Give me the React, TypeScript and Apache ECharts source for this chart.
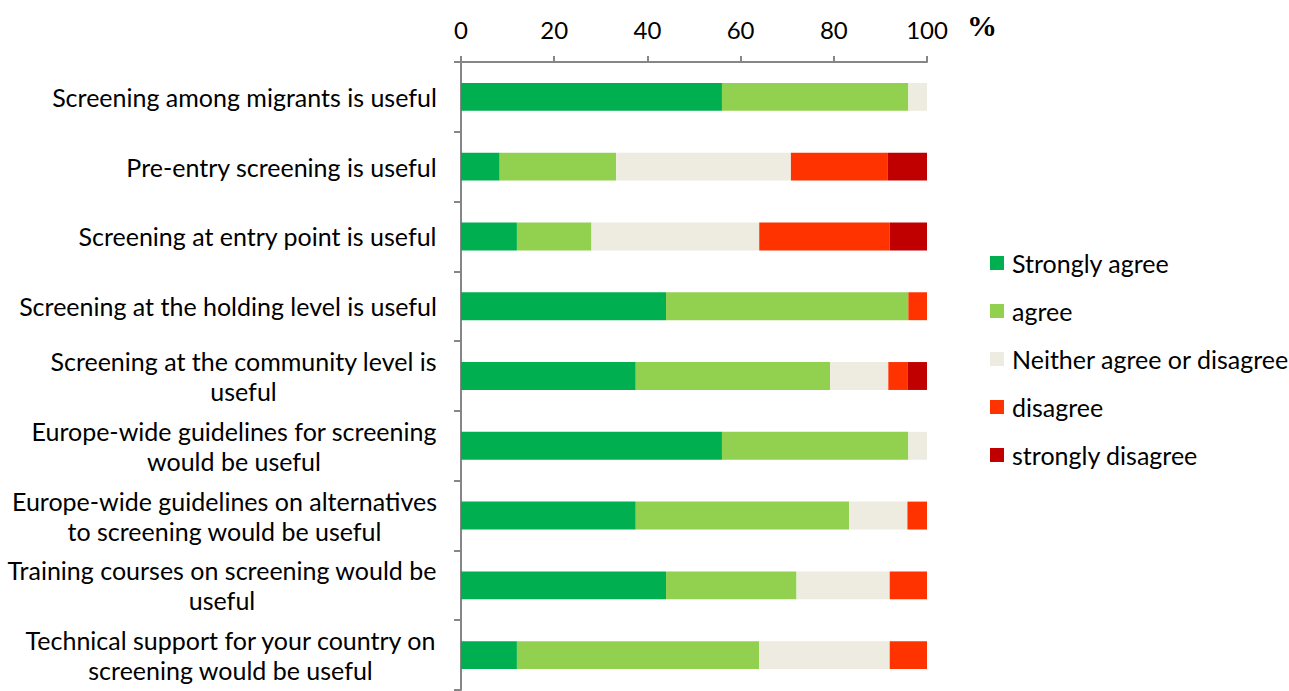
import React, { useEffect, useRef } from "react";
import * as echarts from "echarts";

const categories = [
  "Screening among migrants is useful",
  "Pre-entry screening is useful",
  "Screening at entry point is useful",
  "Screening at the holding level is useful",
  "Screening at the community level is useful",
  "Europe-wide guidelines for screening would be useful",
  "Europe-wide guidelines on alternatives to screening would be useful",
  "Training courses on screening would be useful",
  "Technical support for your country on screening would be useful",
];

const labelBreaks: Record<string, string[]> = {
  "Screening at the community level is useful": ["Screening at the community level is", "useful"],
  "Europe-wide guidelines for screening would be useful": ["Europe-wide guidelines for screening", "would be useful"],
  "Europe-wide guidelines on alternatives to screening would be useful": ["Europe-wide guidelines on alternatives", "to screening would be useful"],
  "Training courses on screening would be useful": ["Training courses on screening would be", "useful"],
  "Technical support for your country on screening would be useful": ["Technical support for your country on", "screening would be useful"],
};

const seriesNames = ["Strongly agree", "agree", "Neither agree or disagree", "disagree", "strongly disagree"];
const stronglyAgree = [56, 8.3, 12, 44, 37.5, 56, 37.5, 44, 12];
const agree = [40, 25, 16, 52, 41.7, 40, 45.8, 28, 52];
const neither = [4, 37.5, 36, 0, 12.5, 4, 12.5, 20, 28];
const disagree = [0, 20.8, 28, 4, 4.2, 0, 4.2, 8, 8];
const stronglyDisagree = [0, 8.4, 8, 0, 4.1, 0, 0, 0, 0];
const colors = ["#00B050", "#92D050", "#EEECE1", "#FF3300", "#C00000"];
const xTicks = [0, 20, 40, 60, 80, 100];

const FONT = "Lato";
const LABEL_SIZE = 25;

export default function App() {
  const ref = useRef<HTMLDivElement>(null);
  useEffect(() => {
    if (!ref.current) return;
    const canvas = document.createElement("canvas");
    const ctx = canvas.getContext("2d")!;
    ctx.font = `${LABEL_SIZE}px ${FONT}`;
    const rich: Record<string, any> = {};
    categories.forEach((c, i) => {
      const lines = labelBreaks[c] || [c];
      const w = Math.ceil(Math.max(...lines.map((l) => ctx.measureText(l).width)));
      rich[`c${i}`] = { width: w, align: "center", fontFamily: FONT, fontSize: LABEL_SIZE, lineHeight: 30, color: "#000" };
    });
    const chart = echarts.init(ref.current, undefined, { renderer: "svg" });
    const values = [stronglyAgree, agree, neither, disagree, stronglyDisagree];
    chart.setOption({
      animation: false,
      textStyle: { fontFamily: FONT },
      grid: { left: 461, right: 362, top: 62, bottom: 1, containLabel: false },
      legend: {
        orient: "vertical",
        left: 985,
        top: 243,
        itemWidth: 14,
        itemHeight: 14,
        itemGap: 18,
        icon: "rect",
        textStyle: { fontFamily: FONT, fontSize: LABEL_SIZE, color: "#000", lineHeight: 30, padding: [0, 0, 0, 3] },
        data: seriesNames,
      },
      xAxis: {
        type: "value",
        position: "top",
        min: xTicks[0],
        max: xTicks[xTicks.length - 1],
        interval: 20,
        splitLine: { show: false },
        axisLine: { show: true, lineStyle: { color: "#868686", width: 2 } },
        axisTick: { show: true, length: 6, lineStyle: { color: "#868686", width: 2 } },
        axisLabel: { fontFamily: FONT, fontSize: 24, color: "#000", margin: 21 },
      },
      yAxis: {
        type: "category",
        inverse: true,
        data: categories,
        axisLine: { show: true, lineStyle: { color: "#868686", width: 2 } },
        axisTick: { show: true, length: 7, lineStyle: { color: "#868686", width: 2 } },
        axisLabel: {
          fontFamily: FONT,
          fontSize: LABEL_SIZE,
          color: "#000",
          margin: 24,
          lineHeight: 30,
          align: "right",
          rich,
          formatter: (v: string) => {
            const i = categories.indexOf(v);
            const lines = labelBreaks[v] || [v];
            return lines.map((l) => `{c${i}|${l}}`).join("\n");
          },
        },
      },
      series: seriesNames.map((name, i) => ({
        name,
        type: "bar",
        stack: "total",
        barWidth: "40%",
        itemStyle: { color: colors[i] },
        data: values[i],
      })),
      graphic: [
        {
          type: "text",
          left: 967,
          top: 10,
          style: { text: "%", font: "bold 30px 'Liberation Serif', serif", fill: "#000" },
        },
      ],
    });
    return () => chart.dispose();
  }, []);
  return <div ref={ref} style={{ position: "absolute", left: 0, top: 0, width: 1289, height: 691 }} />;
}
